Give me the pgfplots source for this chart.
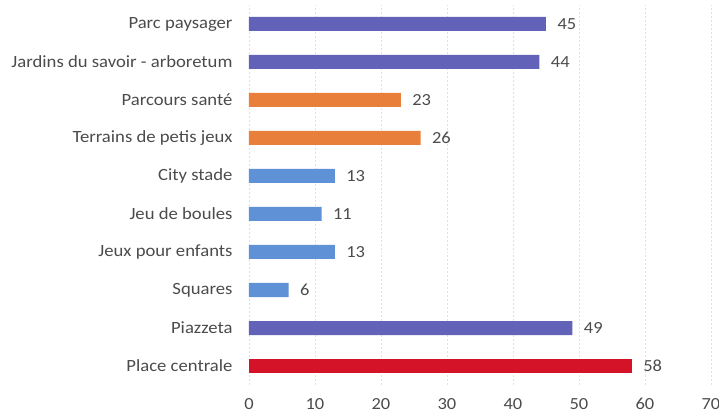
\documentclass[border=0pt]{standalone}
\usepackage{pgfplots}
\pgfplotsset{compat=1.18}
\usepackage{fontspec}
\setmainfont{Carlito}[FakeStretch=1.09]
\definecolor{cpurple}{RGB}{98,98,184}
\definecolor{corange}{RGB}{232,128,60}
\definecolor{cblue}{RGB}{95,145,214}
\definecolor{cred}{RGB}{212,18,40}
\definecolor{ctext}{RGB}{75,75,75}
\definecolor{cgrid}{RGB}{225,225,225}
\begin{document}
\begin{tikzpicture}
\path[use as bounding box] (-249bp,-34bp) rectangle (470bp,385bp);
\begin{axis}[
  at={(0,0)}, anchor=south west,
  scale only axis,
  width=462bp, height=380bp,
  xbar, bar width=14bp, bar shift=0pt,
  xmin=0, xmax=70,
  ymin=-0.5, ymax=9.5,
  xtick={0,10,...,70},
  ytick={0,...,9},
  yticklabels={Place centrale,Piazzeta,Squares,Jeux pour enfants,Jeu de boules,City stade,Terrains de petis jeux,Parcours santé,Jardins du savoir - arboretum,Parc paysager},
  axis line style={draw=none},
  major tick length=0pt,
  xmajorgrids, grid style={cgrid, dash pattern=on 2pt off 2pt},
  ticklabel style={text=ctext},
  xticklabel style={font=\fontsize{17}{19}\selectfont, yshift=-10bp},
  yticklabel style={font=\fontsize{17.2}{19}\selectfont, xshift=-13bp},
  /pgf/number format/assume math mode=true,
  nodes near coords,
  nodes near coords style={font=\fontsize{17}{19}\selectfont, text=ctext, xshift=8bp},
  point meta=x,
]
\addplot[fill=cpurple, draw=none] coordinates {(45,9) (44,8) (49,1)};
\addplot[fill=corange, draw=none] coordinates {(23,7) (26,6)};
\addplot[fill=cblue, draw=none] coordinates {(13,5) (11,4) (13,3) (6,2)};
\addplot[fill=cred, draw=none] coordinates {(58,0)};
\end{axis}
\end{tikzpicture}
\end{document}
